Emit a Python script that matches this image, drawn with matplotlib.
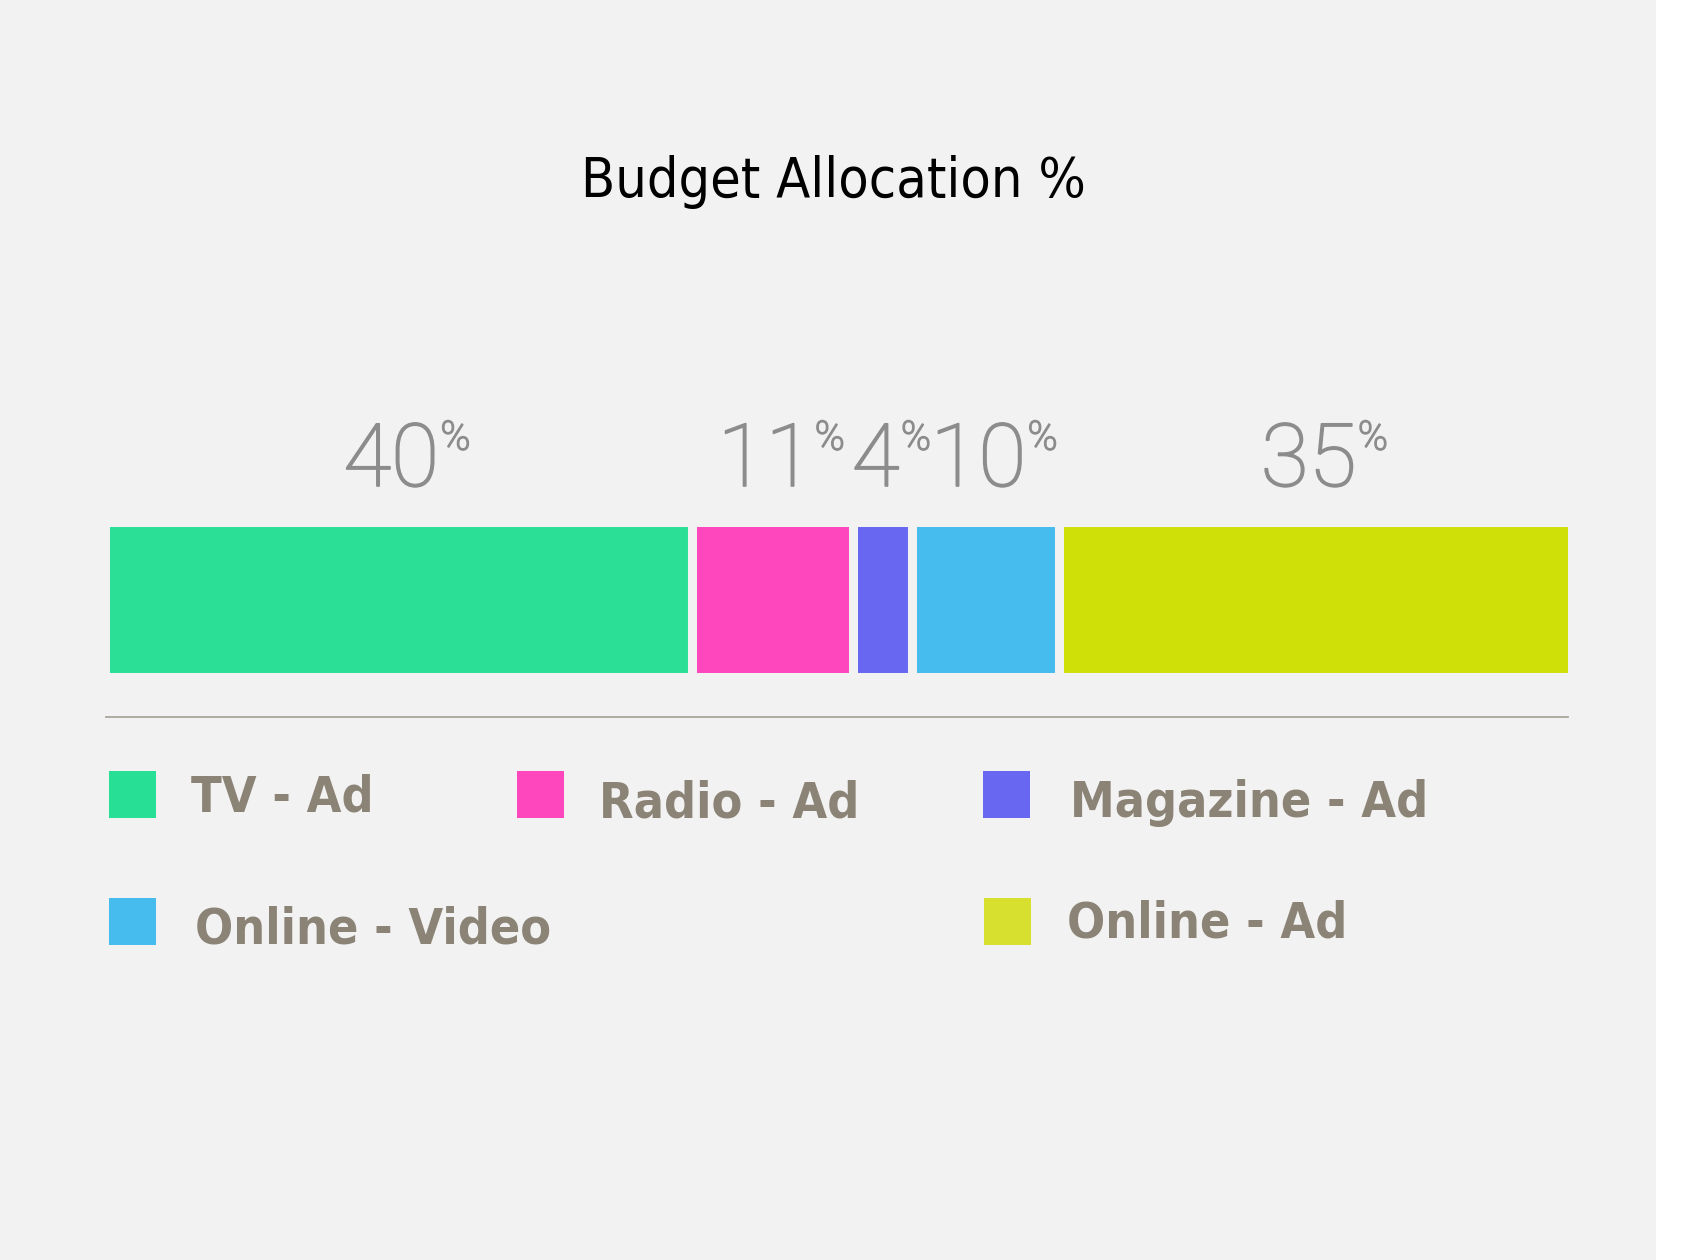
import matplotlib.pyplot as plt
import matplotlib.patheffects as pe
from matplotlib.patches import Rectangle
import numpy as np

channels = ['TV - Ad', 'Radio - Ad', 'Magazine - Ad', 'Online - Video', 'Online - Ad']
shares = [40, 11, 4, 10, 35]
bar_colors = ['#2be096', '#ff47bd', '#6767f2', '#45bbee', '#cfdf08']
legend_colors = ['#27e096', '#ff47bd', '#6767f2', '#45bbee', '#d7e02f']

W, H = 1686, 1260
BG = '#f2f2f2'
LABEL_GREY = '#8c8c8c'
LEGEND_TEXT = '#8b8375'


def fx(px):
    return px / W


def fy(py):
    return 1 - py / H


fig = plt.figure(figsize=(W / 100, H / 100), dpi=100, facecolor='white')
fig.patches.append(Rectangle((0, 0), fx(1656), 1, transform=fig.transFigure,
                             facecolor=BG, edgecolor='none', zorder=-10))

fig.text(fx(833), fy(197), 'Budget Allocation %', ha='center', va='baseline',
         fontsize=40, color='black', family='DejaVu Sans', fontstretch='condensed')

# the stacked bar, gaps come from edges in background colour
ax = fig.add_axes([fx(104.5), fy(676.5), fx(1572.5 - 104.5), (676.5 - 521.5) / H])
ax.set_facecolor('none')
left = np.concatenate([[0], np.cumsum(shares)[:-1]])
ax.barh([0.5], shares, left=left, height=1, color=bar_colors,
        edgecolor=BG, linewidth=6.5, clip_on=False)
ax.set_xlim(0, sum(shares))
ax.set_ylim(0, 1)
ax.axis('off')

thicker = [pe.withStroke(linewidth=1.2, foreground=LABEL_GREY)]
for l, s in zip(left, shares):
    t = ax.annotate(str(s), xy=(l + s / 2, 1.229), xycoords=ax.get_xaxis_transform(),
                    xytext=(-5, 0), textcoords='offset points',
                    ha='center', va='baseline', fontsize=63, color=LABEL_GREY,
                    family='Roboto', fontweight='light', path_effects=thicker)
    ax.annotate('%', xy=(1, 1), xycoords=t, xytext=(1, 1), textcoords='offset points',
                ha='left', va='top', fontsize=29, color=LABEL_GREY,
                family='Roboto', fontweight='light', path_effects=thicker)

fig.add_artist(plt.Line2D([fx(106), fx(1568)], [fy(717), fy(717)],
                          color='#a9a69d', linewidth=1.3))

# legend drawn by hand in a grid
sq_x = [109, 517, 983, 109, 984]
sq_y = [771, 771, 771, 898, 898]
txt_x = [191, 599, 1070, 195, 1067]
txt_base = [812, 817, 817, 943, 938]
for i, name in enumerate(channels):
    fig.patches.append(Rectangle((fx(sq_x[i]), fy(sq_y[i] + 47)), fx(47), 47 / H,
                                 transform=fig.transFigure,
                                 facecolor=legend_colors[i], edgecolor='none'))
    fig.text(fx(txt_x[i]), fy(txt_base[i]), name, ha='left', va='baseline',
             fontsize=36, color=LEGEND_TEXT, family='DejaVu Sans',
             fontstretch='condensed', fontweight='bold')

fig.savefig('out.png', dpi=100, facecolor=fig.get_facecolor())
